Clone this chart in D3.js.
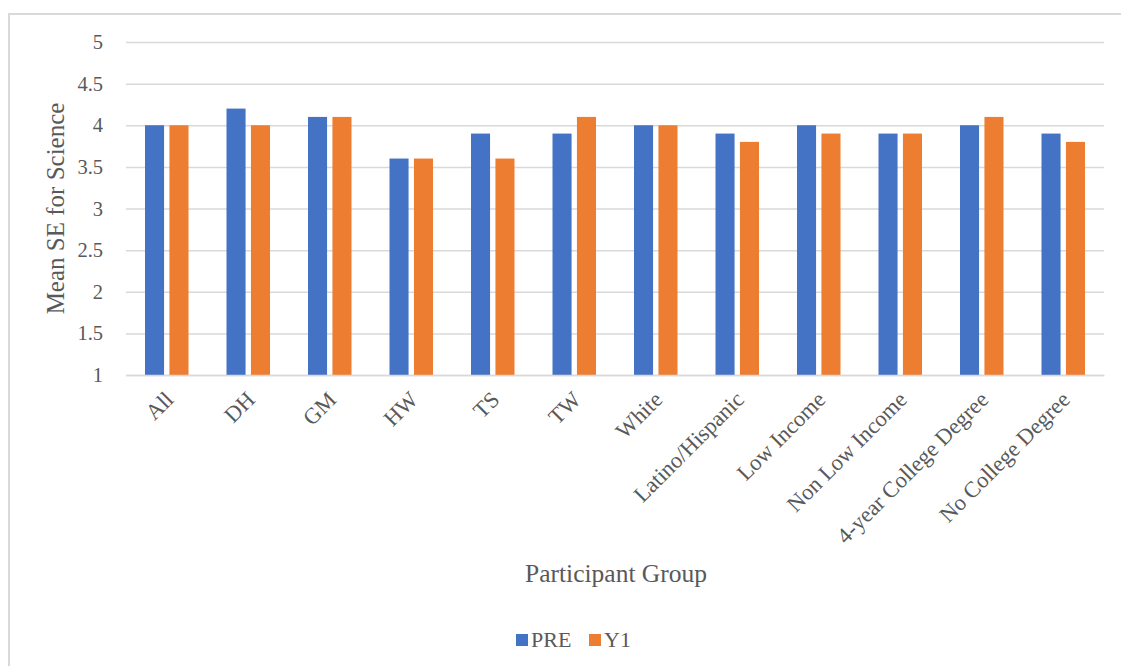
<!DOCTYPE html>
<html lang="en">
<head>
<meta charset="UTF-8">
<title>Mean SE for Science</title>
<script src="https://cdn.jsdelivr.net/npm/d3@7/dist/d3.min.js"></script>
<style>
  body { margin: 0; background: #fff; }
  text { font-family: "Liberation Serif", "Times New Roman", serif; fill: #595959; }
</style>
</head>
<body>
<div id="vis"></div>
<script>
var groups = ["All", "DH", "GM", "HW", "TS", "TW", "White", "Latino/Hispanic",
              "Low Income", "Non Low Income", "4-year College Degree", "No College Degree"];
var preValues = [4.0, 4.2, 4.1, 3.6, 3.9, 3.9, 4.0, 3.9, 4.0, 3.9, 4.0, 3.9];
var y1Values  = [4.0, 4.0, 4.1, 3.6, 3.6, 4.1, 4.0, 3.8, 3.9, 3.9, 4.1, 3.8];
var seriesNames = ["PRE", "Y1"];
var seriesColors = ["#4472C4", "#ED7D31"];
var yTicks = [1, 1.5, 2, 2.5, 3, 3.5, 4, 4.5, 5];

var width = 1121, height = 666;
var margin = { top: 42, left: 126, right: 17, bottom: 291 };
var innerW = width - margin.left - margin.right;
var innerH = height - margin.top - margin.bottom;

var svg = d3.select("#vis").append("svg")
    .attr("width", width)
    .attr("height", height);

// outer frame
svg.append("rect")
    .attr("x", 9).attr("y", 14)
    .attr("width", 1130).attr("height", 700)
    .attr("fill", "none")
    .attr("stroke", "#d9d9d9")
    .attr("stroke-width", 2);

var g = svg.append("g")
    .attr("transform", "translate(" + margin.left + "," + margin.top + ")");

var y = d3.scaleLinear().domain([1, 5]).range([innerH, 0]);
var x = d3.scaleBand().domain(groups).range([0, innerW]);
var xs = d3.scaleBand().domain(seriesNames).range([19, x.bandwidth() - 19]).paddingInner(0.22);

// gridlines + y labels
var yAxis = d3.axisLeft(y).tickValues(yTicks).tickSize(-innerW).tickPadding(23)
    .tickFormat(function(d) { return d; });
g.append("g").attr("class", "y axis").call(yAxis)
  .call(function(s) {
    s.select(".domain").remove();
    s.selectAll("line").attr("stroke", "#d9d9d9").attr("stroke-width", 1.5);
    s.selectAll("text").attr("font-size", 20.5).style("fill", "#595959")
      .style("font-family", "Liberation Serif, serif");
  });

var rows = groups.map(function(gname, i) {
    return { group: gname, vals: [preValues[i], y1Values[i]] };
});

var cat = g.selectAll(".cat").data(rows).enter().append("g")
    .attr("class", "cat")
    .attr("transform", function(d) { return "translate(" + x(d.group) + ",0)"; });

cat.selectAll("rect").data(function(d) {
        return d.vals.map(function(v, j) { return { s: seriesNames[j], v: v, c: seriesColors[j] }; });
    }).enter().append("rect")
    .attr("x", function(d) { return xs(d.s); })
    .attr("width", xs.bandwidth())
    .attr("y", function(d) { return y(d.v); })
    .attr("height", function(d) { return innerH - y(d.v); })
    .attr("fill", function(d) { return d.c; });

// x axis baseline and rotated labels
var xAxis = d3.axisBottom(x).tickSize(0).tickPadding(0);
g.append("g").attr("class", "x axis")
    .attr("transform", "translate(0," + innerH + ")")
    .call(xAxis)
    .call(function(s) {
      s.select(".domain").attr("stroke", "#d9d9d9").attr("stroke-width", 1.5);
      s.selectAll("text")
        .attr("font-size", 22.5)
        .style("fill", "#595959")
        .style("font-family", "Liberation Serif, serif")
        .attr("text-anchor", "end")
        .attr("dy", 0)
        .attr("y", 0)
        .attr("transform", "translate(8,26) rotate(-45)");
    });

// axis titles
svg.append("text")
    .attr("transform", "translate(64," + (margin.top + innerH / 2) + ") rotate(-90)")
    .attr("text-anchor", "middle")
    .attr("font-size", 25)
    .text("Mean SE for Science");

svg.append("text")
    .attr("x", 616).attr("y", 582)
    .attr("text-anchor", "middle")
    .attr("font-size", 25.5)
    .text("Participant Group");

// legend
var legend = svg.append("g").attr("transform", "translate(516,647)");
var li = legend.selectAll("g").data(seriesNames).enter().append("g")
    .attr("transform", function(d, i) { return "translate(" + (i * 73) + ",0)"; });
li.append("rect").attr("x", 0).attr("y", -13).attr("width", 12).attr("height", 12)
    .attr("fill", function(d, i) { return seriesColors[i]; });
li.append("text").attr("x", 15).attr("y", 0).attr("font-size", 22).text(function(d) { return d; });
</script>
</body>
</html>
